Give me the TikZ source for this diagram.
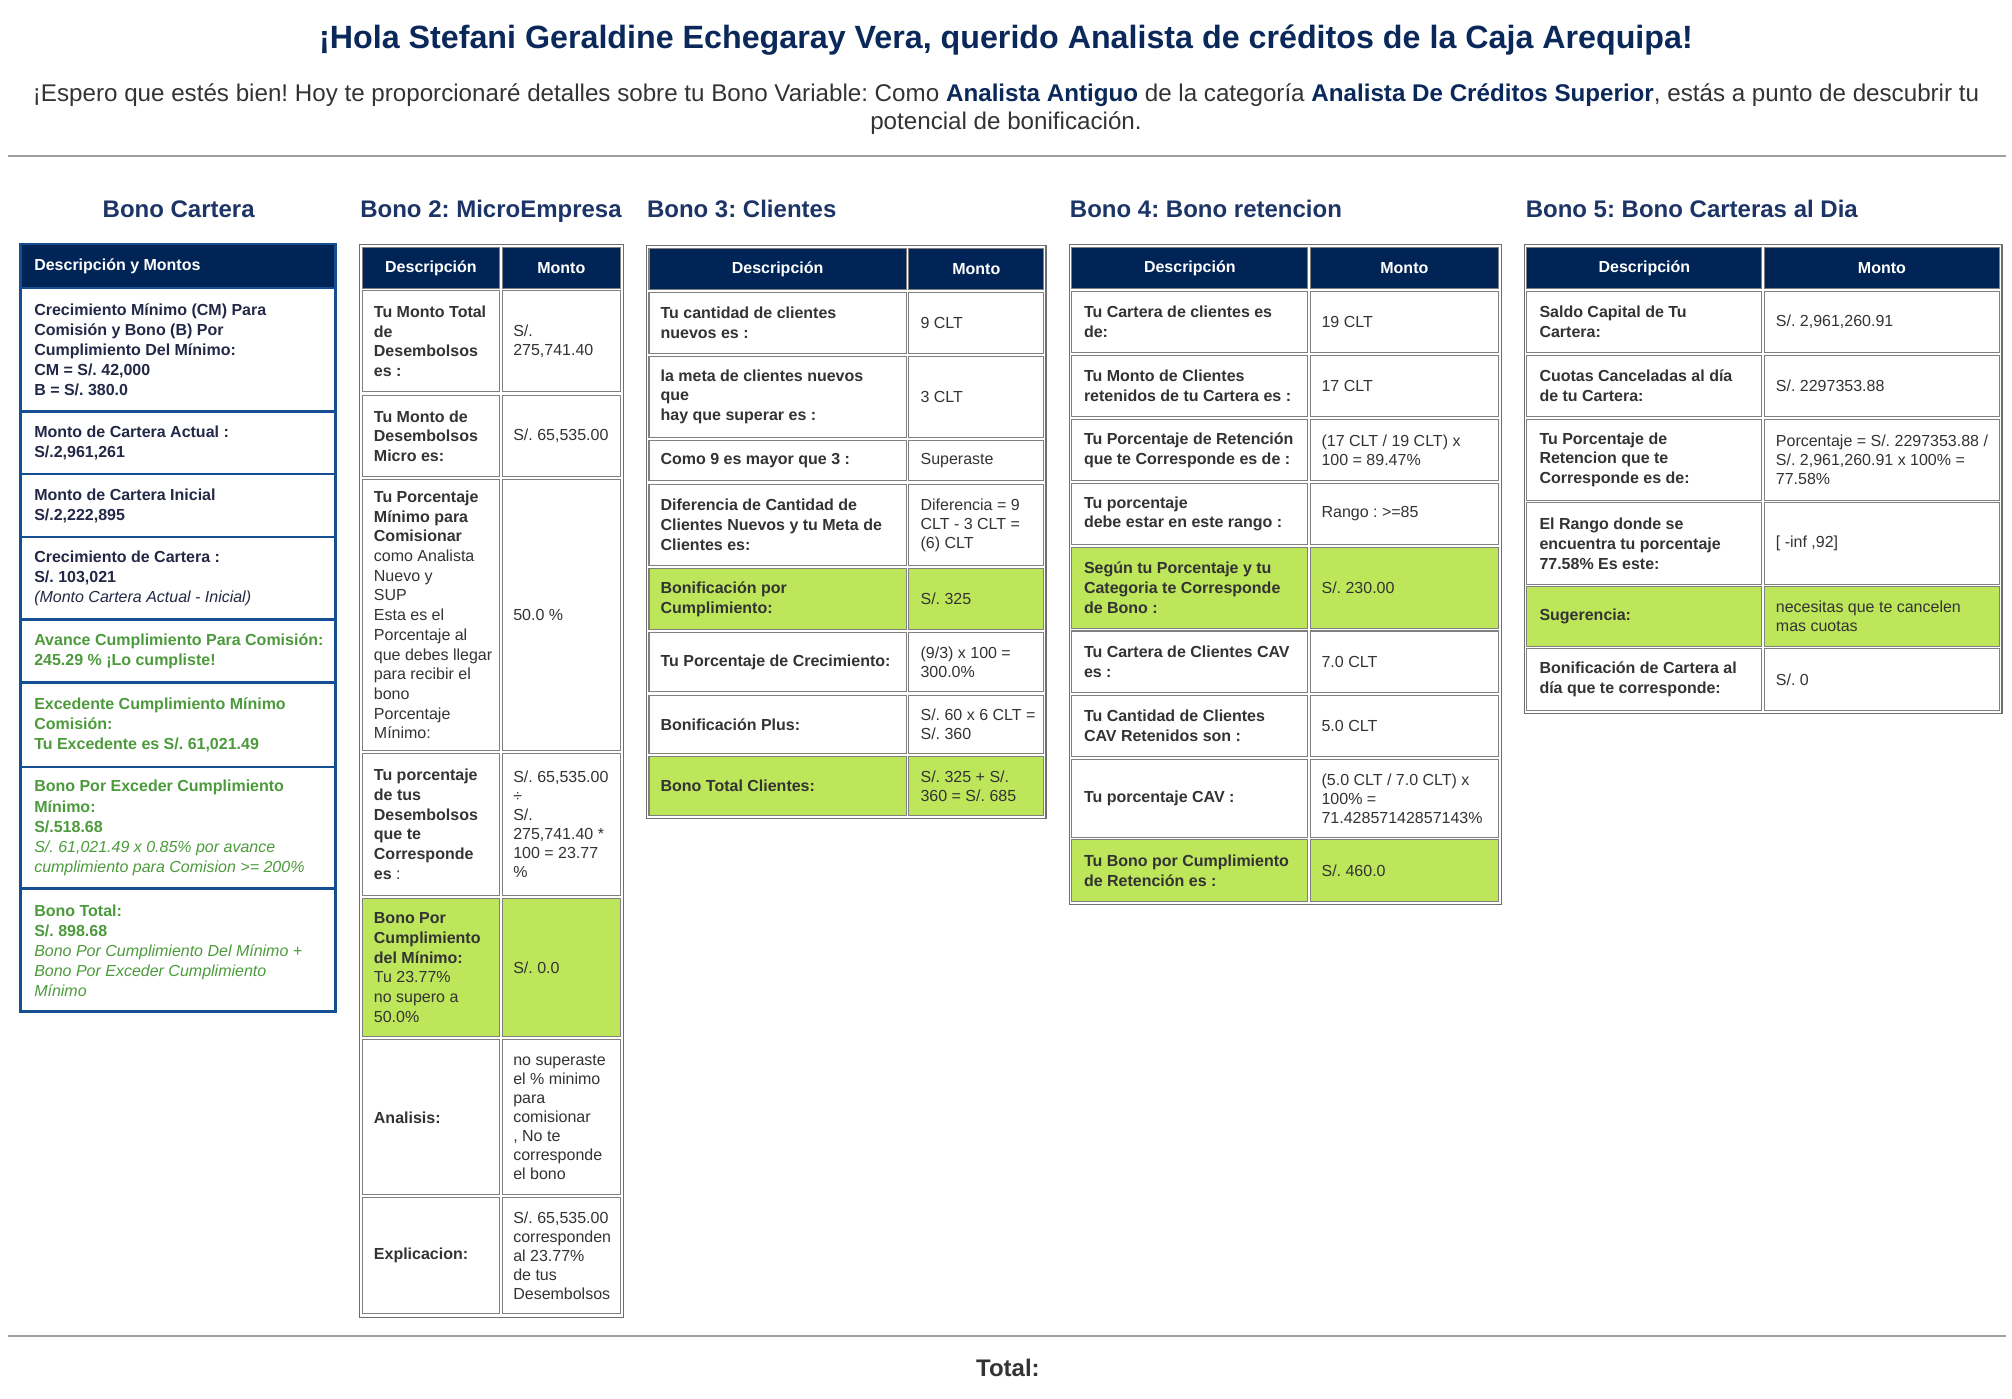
\documentclass[tikz,border=0pt]{standalone}
\usepackage{fontspec}
\setmainfont{Liberation Sans}
\usepackage{tikz}
\usetikzlibrary{positioning}
\frenchspacing

\definecolor{navyhead}{RGB}{0,36,86}
\definecolor{titleblue}{RGB}{10,40,90}
\definecolor{headblue}{RGB}{28,52,102}
\definecolor{cartblue}{RGB}{20,80,145}
\definecolor{cartink}{RGB}{35,40,70}
\definecolor{okgreen}{RGB}{76,154,60}
\definecolor{okfill}{RGB}{189,230,91}
\definecolor{txtgray}{RGB}{51,51,51}
\definecolor{cellgray}{RGB}{128,128,128}
\definecolor{outergray}{RGB}{110,110,110}
\definecolor{rulegray}{RGB}{160,160,160}

\begin{document}
\begin{tikzpicture}[x=0.75pt,y=-0.75pt,
    cell/.style={draw=cellgray,line width=0.6pt},
    outer/.style={draw=outergray,line width=0.6pt},
    desc/.style={anchor=west,align=left,inner sep=0pt,text=txtgray,
                 font=\fontsize{9.33}{11.5}\selectfont\bfseries},
    val/.style={anchor=west,align=left,inner sep=0pt,text=txtgray,
                font=\fontsize{9.33}{11.1}\selectfont},
    headtxt/.style={inner sep=0pt,text=white,font=\fontsize{9.33}{11.1}\selectfont\bfseries},
    heading/.style={inner sep=0pt,anchor=base west,text=headblue,font=\fontsize{14}{16}\selectfont\bfseries},
    cart/.style={desc,text=cartink,font=\fontsize{9.33}{11.7}\selectfont\bfseries},
    verde/.style={cart,text=okgreen}]
  \useasboundingbox (0,0) rectangle (1565,1088);

  % saludo
  \node[inner sep=0pt,text=titleblue,font=\fontsize{18.8}{22}\selectfont\bfseries] (title) at (782.5,31)
    {¡Hola Stefani Geraldine Echegaray Vera, querido Analista de créditos de la Caja Arequipa!};
  \node[inner sep=0pt,align=center,text=txtgray,font=\fontsize{14.1}{16.5}\selectfont] (intro) at (782.5,85)
    {¡Espero que estés bien! Hoy te proporcionaré detalles sobre tu Bono Variable: Como {\bfseries\color{titleblue}Analista Antiguo} de la categoría {\bfseries\color{titleblue}Analista De Créditos Superior}, estás a punto de descubrir tu\\potencial de bonificación.};
  \draw[rulegray,line width=1.2pt] (6,121) -- (1560,121);

  \node[heading,anchor=base] (h1) at (139,169.5) {Bono Cartera};
  \node[heading] (h2) at (280,169.5) {Bono 2: MicroEmpresa};
  \node[heading] (h3) at (503,169.5) {Bono 3: Clientes};
  \node[heading] (h4) at (832,169.5) {Bono 4: Bono retencion};
  \node[heading] (h5) at (1186.5,169.5) {Bono 5: Bono Carteras al Dia};

  % Bono Cartera
  \fill[navyhead] (15.6,189.8) rectangle (261.3,224);
  \draw[cartblue,line width=1.7pt] (15.6,189.8) rectangle (261.3,787.1);
  \foreach \y in {224,320.4,368.7,417.7,482.2,531.2,596.6,691.4}
    \draw[cartblue,line width=1.7pt] (15.6,\y) -- (261.3,\y);
  \node[headtxt,anchor=west] (c1h) at (26.4,206.9) {Descripción y Montos};
  \node[cart] (c1r1) at (26.4,272.2) {Crecimiento Mínimo (CM) Para\\Comisión y Bono (B) Por\\Cumplimiento Del Mínimo:\\CM = S/. 42,000\\B = S/. 380.0};
  \node[cart] (c1r2) at (26.4,344.55) {Monto de Cartera Actual :\\S/.2,961,261};
  \node[cart] (c1r3) at (26.4,393.2) {Monto de Cartera Inicial\\S/.2,222,895};
  \node[cart] (c1r4) at (26.4,449.95) {Crecimiento de Cartera :\\S/. 103,021\\\mdseries\itshape (Monto Cartera Actual - Inicial)};
  \node[verde] (c1r5) at (26.4,506.7) {Avance Cumplimiento Para Comisión:\\245.29 \% ¡Lo cumpliste!};
  \node[verde] (c1r6) at (26.4,563.9) {Excedente Cumplimiento Mínimo\\Comisión:\\Tu Excedente es S/. 61,021.49};
  \node[verde] (c1r7) at (26.4,644) {Bono Por Exceder Cumplimiento\\Mínimo:\\S/.518.68\\\mdseries\itshape S/. 61,021.49 x 0.85\% por avance\\\mdseries\itshape cumplimiento para Comision >= 200\%};
  \node[verde] (c1r8) at (26.4,739.25) {Bono Total:\\S/. 898.68\\\mdseries\itshape Bono Por Cumplimiento Del Mínimo +\\\mdseries\itshape Bono Por Exceder Cumplimiento\\\mdseries\itshape Mínimo};

  % Bono 2
  \draw[outer] (279.7,190.2) rectangle (485.1,1024.7);
  \foreach \ya/\yb/\c in {192.4/224.6/navyhead, 226.3/304.8/white, 307.4/370.9/white,
      372.9/583.8/white, 585.8/696.6/white, 698.6/806.4/okfill, 808.8/929.3/white, 931.3/1021.9/white}{
    \draw[cell,fill=\c] (281.8,\ya) rectangle (388.6,\yb);
    \draw[cell,fill=\c] (390.5,\ya) rectangle (482.7,\yb);
  }
  \node[headtxt] (b2hd) at (335.2,208.5) {Descripción};
  \node[headtxt] (b2hm) at (436.6,208.5) {Monto};
  \node[desc] (b2d1) at (290.6,265.55) {Tu Monto Total\\de\\Desembolsos\\es :};
  \node[val] (b2m1) at (399,265.55) {S/.\\275,741.40};
  \node[desc] (b2d2) at (290.6,339.15) {Tu Monto de\\Desembolsos\\Micro es:};
  \node[val] (b2m2) at (399,339.15) {S/. 65,535.00};
  \node[desc] (b2d3) at (290.6,478.35) {Tu Porcentaje\\Mínimo para\\Comisionar\\\mdseries como Analista\\\mdseries Nuevo y\\\mdseries SUP\\\mdseries Esta es el\\\mdseries Porcentaje al\\\mdseries que debes llegar\\\mdseries para recibir el\\\mdseries bono\\\mdseries Porcentaje\\\mdseries Mínimo:};
  \node[val] (b2m3) at (399,478.35) {50.0 \%};
  \node[desc] (b2d4) at (290.6,641.2) {Tu porcentaje\\de tus\\Desembolsos\\que te\\Corresponde\\es \mdseries:};
  \node[val] (b2m4) at (399,641.2) {S/. 65,535.00\\÷\\S/.\\275,741.40 *\\100 = 23.77\\\%};
  \node[desc] (b2d5) at (290.6,752.5) {Bono Por\\Cumplimiento\\del Mínimo:\\\mdseries Tu 23.77\%\\\mdseries no supero a\\\mdseries 50.0\%};
  \node[val] (b2m5) at (399,752.5) {S/. 0.0};
  \node[desc] (b2d6) at (290.6,869.05) {Analisis:};
  \node[val] (b2m6) at (399,869.05) {no superaste\\el \% minimo\\para\\comisionar\\, No te\\corresponde\\el bono};
  \node[desc] (b2d7) at (290.6,976.6) {Explicacion:};
  \node[val] (b2m7) at (399,976.6) {S/. 65,535.00\\corresponden\\al 23.77\%\\de tus\\Desembolsos};

  % Bono 3
  \draw[outer] (502.7,190.8) rectangle (813.6,637);
  \foreach \ya/\yb/\c in {193/225.4/navyhead, 227.3/274.9/white, 277.2/340.1/white, 342.9/374/white,
      377.2/439.5/white, 442.3/489.9/okfill, 492.2/537.6/white, 540.8/586.2/white, 588.4/634.5/okfill}{
    \draw[cell,fill=\c] (504.8,\ya) rectangle (704.9,\yb);
    \draw[cell,fill=\c] (707,\ya) rectangle (811.8,\yb);
  }
  \node[headtxt] (b3hd) at (604.85,209.2) {Descripción};
  \node[headtxt] (b3hm) at (759.4,209.2) {Monto};
  \node[desc] (b3d1) at (513.6,251.1) {Tu cantidad de clientes\\nuevos es :};
  \node[val] (b3m1) at (715.8,251.1) {9 CLT};
  \node[desc] (b3d2) at (513.6,308.65) {la meta de clientes nuevos\\que\\hay que superar es :};
  \node[val] (b3m2) at (715.8,308.65) {3 CLT};
  \node[desc] (b3d3) at (513.6,358.45) {Como 9 es mayor que 3 :};
  \node[val] (b3m3) at (715.8,358.45) {Superaste};
  \node[desc] (b3d4) at (513.6,408.35) {Diferencia de Cantidad de\\Clientes Nuevos y tu Meta de\\Clientes es:};
  \node[val] (b3m4) at (715.8,408.35) {Diferencia = 9\\CLT - 3 CLT =\\(6) CLT};
  \node[desc] (b3d5) at (513.6,466.1) {Bonificación por\\Cumplimiento:};
  \node[val] (b3m5) at (715.8,466.1) {S/. 325};
  \node[desc] (b3d6) at (513.6,514.9) {Tu Porcentaje de Crecimiento:};
  \node[val] (b3m6) at (715.8,514.9) {(9/3) x 100 =\\300.0\%};
  \node[desc] (b3d7) at (513.6,563.5) {Bonificación Plus:};
  \node[val] (b3m7) at (715.8,563.5) {S/. 60 x 6 CLT =\\S/. 360};
  \node[desc] (b3d8) at (513.6,611.45) {Bono Total Clientes:};
  \node[val] (b3m8) at (715.8,611.45) {S/. 325 + S/.\\360 = S/. 685};

  % Bono 4
  \draw[outer] (832,190) rectangle (1168.2,703.4);
  \foreach \ya/\yb/\c in {192.4/224.5/navyhead, 226.6/274.3/white, 276.4/324.1/white, 326.2/373.9/white,
      375.9/423.4/white, 425.7/488.7/okfill, 490.8/538.5/white, 540.6/588.5/white, 590.6/651.5/white,
      653.3/701.3/okfill}{
    \draw[cell,fill=\c] (833.8,\ya) rectangle (1017.1,\yb);
    \draw[cell,fill=\c] (1019.1,\ya) rectangle (1165.6,\yb);
  }
  \node[headtxt] (b4hd) at (925.45,208.45) {Descripción};
  \node[headtxt] (b4hm) at (1092.35,208.45) {Monto};
  \node[desc] (b4d1) at (842.9,250.45) {Tu Cartera de clientes es\\de:};
  \node[val] (b4m1) at (1027.7,250.45) {19 CLT};
  \node[desc] (b4d2) at (842.9,300.25) {Tu Monto de Clientes\\retenidos de tu Cartera es :};
  \node[val] (b4m2) at (1027.7,300.25) {17 CLT};
  \node[desc] (b4d3) at (842.9,350.05) {Tu Porcentaje de Retención\\que te Corresponde es de :};
  \node[val] (b4m3) at (1027.7,350.05) {(17 CLT / 19 CLT) x\\100 = 89.47\%};
  \node[desc] (b4d4) at (842.9,399.65) {Tu porcentaje\\debe estar en este rango :};
  \node[val] (b4m4) at (1027.7,399.65) {Rango : >=85};
  \node[desc] (b4d5) at (842.9,457.2) {Según tu Porcentaje y tu\\Categoria te Corresponde\\de Bono :};
  \node[val] (b4m5) at (1027.7,457.2) {S/. 230.00};
  \node[desc] (b4d6) at (842.9,514.65) {Tu Cartera de Clientes CAV\\es :};
  \node[val] (b4m6) at (1027.7,514.65) {7.0 CLT};
  \node[desc] (b4d7) at (842.9,564.55) {Tu Cantidad de Clientes\\CAV Retenidos son :};
  \node[val] (b4m7) at (1027.7,564.55) {5.0 CLT};
  \node[desc] (b4d8) at (842.9,621.05) {Tu porcentaje CAV :};
  \node[val] (b4m8) at (1027.7,621.05) {(5.0 CLT / 7.0 CLT) x\\100\% =\\71.42857142857143\%};
  \node[desc] (b4d9) at (842.9,677.3) {Tu Bono por Cumplimiento\\de Retención es :};
  \node[val] (b4m9) at (1027.7,677.3) {S/. 460.0};

  % Bono 5
  \draw[outer] (1185.9,190.3) rectangle (1557.2,554.6);
  \foreach \ya/\yb/\c in {192.4/224.5/navyhead, 226.6/274.2/white, 276.3/323.8/white, 326/389/white,
      391.1/454.7/white, 456.5/502.5/okfill, 504.6/552.5/white}{
    \draw[cell,fill=\c] (1187.7,\ya) rectangle (1370.4,\yb);
    \draw[cell,fill=\c] (1372.5,\ya) rectangle (1555.1,\yb);
  }
  \node[headtxt] (b5hd) at (1279.05,208.45) {Descripción};
  \node[headtxt] (b5hm) at (1463.8,208.45) {Monto};
  \node[desc] (b5d1) at (1197.2,250.4) {Saldo Capital de Tu\\Cartera:};
  \node[val] (b5m1) at (1381.1,250.4) {S/. 2,961,260.91};
  \node[desc] (b5d2) at (1197.2,300.05) {Cuotas Canceladas al día\\de tu Cartera:};
  \node[val] (b5m2) at (1381.1,300.05) {S/. 2297353.88};
  \node[desc] (b5d3) at (1197.2,357.5) {Tu Porcentaje de\\Retencion que te\\Corresponde es de:};
  \node[val] (b5m3) at (1381.1,357.5) {Porcentaje = S/. 2297353.88 /\\S/. 2,961,260.91 x 100\% =\\77.58\%};
  \node[desc] (b5d4) at (1197.2,422.9) {El Rango donde se\\encuentra tu porcentaje\\77.58\% Es este:};
  \node[val] (b5m4) at (1381.1,422.9) {[ -inf ,92]};
  \node[desc] (b5d5) at (1197.2,479.5) {Sugerencia:};
  \node[val] (b5m5) at (1381.1,479.5) {necesitas que te cancelen\\mas cuotas};
  \node[desc] (b5d6) at (1197.2,528.55) {Bonificación de Cartera al\\día que te corresponde:};
  \node[val] (b5m6) at (1381.1,528.55) {S/. 0};

  % total
  \draw[rulegray,line width=1.2pt] (6,1039) -- (1560,1039);
  \node[inner sep=0pt,text=txtgray,font=\fontsize{14}{16}\selectfont\bfseries] (total) at (784,1064) {Total:};
\end{tikzpicture}
\end{document}
